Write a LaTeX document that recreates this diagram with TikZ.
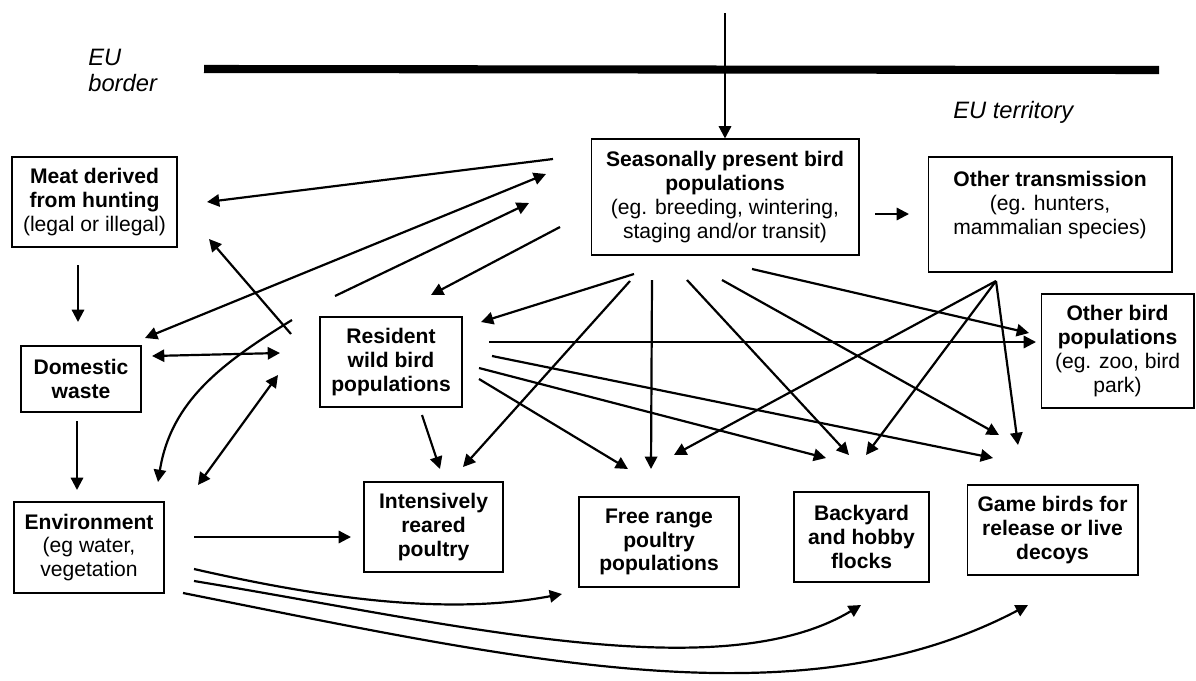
\documentclass[tikz,border=0pt]{standalone}
\usepackage{fontspec}
\setmainfont{Liberation Sans}
\usetikzlibrary{arrows.meta}

\tikzset{
  box/.style={draw, line width=0.6pt, align=center, inner sep=0pt,
    font=\fontsize{12}{13.6}\selectfont},
  arr/.style={-{Triangle[length=7pt,width=7pt]}, line width=1.25pt},
  darr/.style={{Triangle[length=7pt,width=7pt]}-{Triangle[length=7pt,width=7pt]}, line width=1.25pt},
  lab/.style={font=\fontsize{13.5}{14.7}\selectfont\itshape, align=left, inner sep=0pt},
}

\begin{document}
\begin{tikzpicture}[x=0.02cm, y=-0.02cm]
\useasboundingbox (0,0) rectangle (1196,680);

% EU border
\draw[line width=4.6pt] (204,69) -- (1159,70);
\draw (88,49) node[lab, anchor=north west](border) {EU\\border};
\draw (953,118) node[lab, anchor=base west](territory) {EU territory};

% boxes
\draw (94.5,202) node[box, minimum width=3.3cm, minimum height=1.8cm](meat) {\textbf{Meat derived}\\\textbf{from hunting}\\(legal or illegal)};
\draw (725,197) node[box, minimum width=5.36cm, minimum height=2.32cm](season) {\textbf{Seasonally present bird}\\\textbf{populations}\\(eg. breeding, wintering,\\staging and/or transit)};
\draw (1050,214.5) node[box, minimum width=4.88cm, minimum height=2.3cm](other) {\textbf{Other transmission}\\(eg. hunters,\\mammalian species)\\\mbox{}};
\draw (1117.5,351) node[box, minimum width=3.06cm, minimum height=2.28cm](obird) {\textbf{Other bird}\\\textbf{populations}\\(eg. zoo, bird\\park)};
\draw (81,379) node[box, minimum width=2.4cm, minimum height=1.32cm](waste) {\textbf{Domestic}\\\textbf{waste}};
\draw (391,362) node[box, minimum width=2.84cm, minimum height=1.8cm](resident) {\textbf{Resident}\\\textbf{wild bird}\\\textbf{populations}};
\draw (89,547.5) node[box, minimum width=3.0cm, minimum height=1.82cm](env) {\textbf{Environment}\\(eg water,\\vegetation};
\draw (433.5,527) node[box, minimum width=2.78cm, minimum height=1.8cm](intens) {\textbf{Intensively}\\\textbf{reared}\\\textbf{poultry}};
\draw (659,542) node[box, minimum width=3.2cm, minimum height=1.8cm](free) {\textbf{Free range}\\\textbf{poultry}\\\textbf{populations}};
\draw (861.5,537) node[box, minimum width=2.7cm, minimum height=1.8cm](backyard) {\textbf{Backyard}\\\textbf{and hobby}\\\textbf{flocks}};
\draw (1052.5,530) node[box, minimum width=3.42cm, minimum height=1.8cm](game) {\textbf{Game birds for}\\\textbf{release or live}\\\textbf{decoys}};

% free ends of the connectors
\coordinate (entry) at (725,13);
\coordinate (s-meat) at (553,159);  \coordinate (meat-s) at (207,202);
\coordinate (s-waste) at (546,174); \coordinate (waste-s) at (145,338);
\coordinate (r-s) at (335,296);     \coordinate (s-r) at (529,203);
\coordinate (s-res1) at (560,227);  \coordinate (res1-s) at (431,295);
\coordinate (s-res2) at (634,274);  \coordinate (res2-s) at (481,322);
\coordinate (s-oth) at (875,214);   \coordinate (oth-s) at (909,214);
\coordinate (s-int) at (630,281);   \coordinate (int-s) at (463,467);
\coordinate (s-free) at (652,280);  \coordinate (free-s) at (651,469);
\coordinate (s-back) at (687,280);  \coordinate (back-s) at (849,455);
\coordinate (s-game) at (722,280);  \coordinate (game-s) at (999,435);
\coordinate (s-ob) at (752,269);    \coordinate (ob-s) at (1029,333);
\coordinate (o) at (996,281);
\coordinate (free-o) at (674,455);  \coordinate (back-o) at (866,455);
\coordinate (game-o) at (1018,445);
\coordinate (r-ob) at (489,342);    \coordinate (ob-r) at (1036,342);
\coordinate (r-game) at (492,356);  \coordinate (game-r) at (993,458);
\coordinate (r-back) at (479,368);  \coordinate (back-r) at (826,458);
\coordinate (r-free) at (479,379);  \coordinate (free-r) at (628,469);
\coordinate (r-int) at (422,415);   \coordinate (int-r) at (440,469);
\coordinate (meat-w) at (78,265);   \coordinate (w-meat) at (78,322);
\coordinate (w-env) at (77,421);    \coordinate (env-w) at (77,490);
\coordinate (w-r) at (152,356);     \coordinate (r-w) at (280,353);
\coordinate (r-meat) at (291,334);  \coordinate (meat-r) at (209,239);
\coordinate (r-env) at (292,320);   \coordinate (env-r) at (158,482);
\coordinate (e-r) at (198,485);     \coordinate (r-e) at (278,375);
\coordinate (e-int) at (194,537);   \coordinate (int-e) at (351,537);
\coordinate (e-free) at (194,569);  \coordinate (free-e) at (562,594);
\coordinate (e-back) at (194,581);  \coordinate (back-e) at (861,605);
\coordinate (e-game) at (183,593);  \coordinate (game-e) at (1028,605);

% connectors
\draw[arr] (entry) -- (season);
\draw[arr] (s-meat) -- (meat-s);
\draw[darr] (waste-s) -- (s-waste);
\draw[arr] (r-s) -- (s-r);
\draw[arr] (s-res1) -- (res1-s);
\draw[arr] (s-res2) -- (res2-s);
\draw[arr] (s-oth) -- (oth-s);
\draw[arr] (s-int) -- (int-s);
\draw[arr] (s-free) -- (free-s);
\draw[arr] (s-back) -- (back-s);
\draw[arr] (s-game) -- (game-s);
\draw[arr] (s-ob) -- (ob-s);
\draw[arr] (o) -- (free-o);
\draw[arr] (o) -- (back-o);
\draw[arr] (o) -- (game-o);
\draw[arr] (r-ob) -- (ob-r);
\draw[arr] (r-game) -- (game-r);
\draw[arr] (r-back) -- (back-r);
\draw[arr] (r-free) -- (free-r);
\draw[arr] (r-int) -- (int-r);
\draw[arr] (meat-w) -- (w-meat);
\draw[arr] (w-env) -- (env-w);
\draw[darr] (w-r) -- (r-w);
\draw[arr] (r-meat) -- (meat-r);
\draw[arr] (r-env) .. controls (222,363) and (171,401) .. (env-r);
\draw[darr] (e-r) -- (r-e);
\draw[arr] (e-int) -- (int-e);
\draw[arr] (e-free) .. controls (330,600) and (450,615) .. (free-e);
\draw[arr] (e-back) .. controls (450,623) and (720,690) .. (back-e);
\draw[arr] (e-game) .. controls (520,660) and (800,725) .. (game-e);
\end{tikzpicture}
\end{document}
